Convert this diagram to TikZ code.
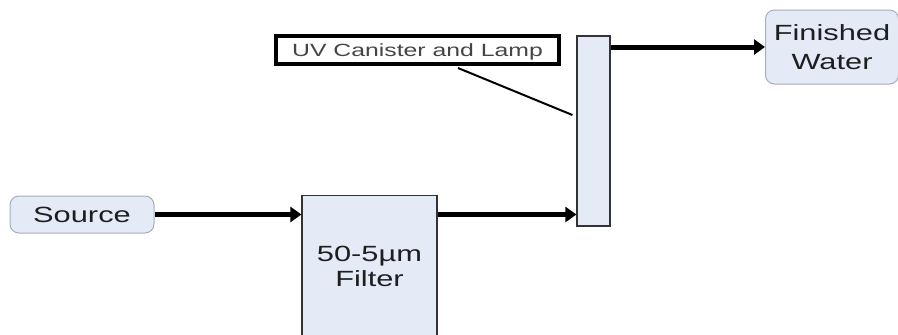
\documentclass[tikz,border=0pt]{standalone}
\usepackage{fontspec}
\setmainfont{Liberation Sans}[FakeStretch=1.4]
\usetikzlibrary{arrows.meta}
\definecolor{boxfill}{HTML}{E4EAF6}
\definecolor{roundline}{HTML}{A7AEBB}
\definecolor{sqline}{HTML}{333333}
\definecolor{txtc}{HTML}{1E1E1E}
\definecolor{lbltxt}{HTML}{454545}
\tikzset{
  roundbox/.style={draw=roundline, line width=1pt, fill=boxfill, rounded corners=9pt,
    text=txtc, font=\fontsize{22}{28.7}\selectfont, align=center, inner sep=0pt},
  sqbox/.style={draw=sqline, line width=1.2pt, fill=boxfill, inner sep=0pt,
    text=txtc, font=\fontsize{22}{25.3}\selectfont, align=center},
  lblbox/.style={draw=black, line width=4pt, fill=white, inner sep=0pt,
    text=lbltxt, font=\fontsize{17.7}{20}\selectfont},
  arr/.style={line width=5pt, -{Triangle[length=11pt,width=15pt]}},
  leader/.style={line width=2pt}
}
\begin{document}
\begin{tikzpicture}[x=1pt,y=-1pt]
\useasboundingbox (0,0) rectangle (898,335);
\node[roundbox, minimum width=144pt, minimum height=37pt, text height=15.7pt, text depth=0pt] (src) at (82,214.5) {Source};
\node[sqbox, minimum width=135pt, minimum height=142pt] (flt) at (369.5,266.5) {50-5µm\\Filter};
\node[sqbox, minimum width=33pt, minimum height=190pt] (uv) at (593.5,131) {};
\node[lblbox, minimum width=283pt, minimum height=28pt, text height=12.7pt, text depth=0pt] (lbl) at (417.5,50) {UV Canister and Lamp};
\node[roundbox, minimum width=133pt, minimum height=74pt] (fin) at (832,47) {Finished\\Water};
\draw[arr] (src.east) -- (flt.west |- src.east);
\draw[arr] (flt.east |- src.east) -- (uv.west |- src.east);
\draw[arr] (uv.east |- fin.west) -- (fin.west);
\draw[leader] ([xshift=40.5pt,yshift=-2pt]lbl.south) -- ([xshift=-4pt,yshift=16pt]uv.west);
\end{tikzpicture}
\end{document}
